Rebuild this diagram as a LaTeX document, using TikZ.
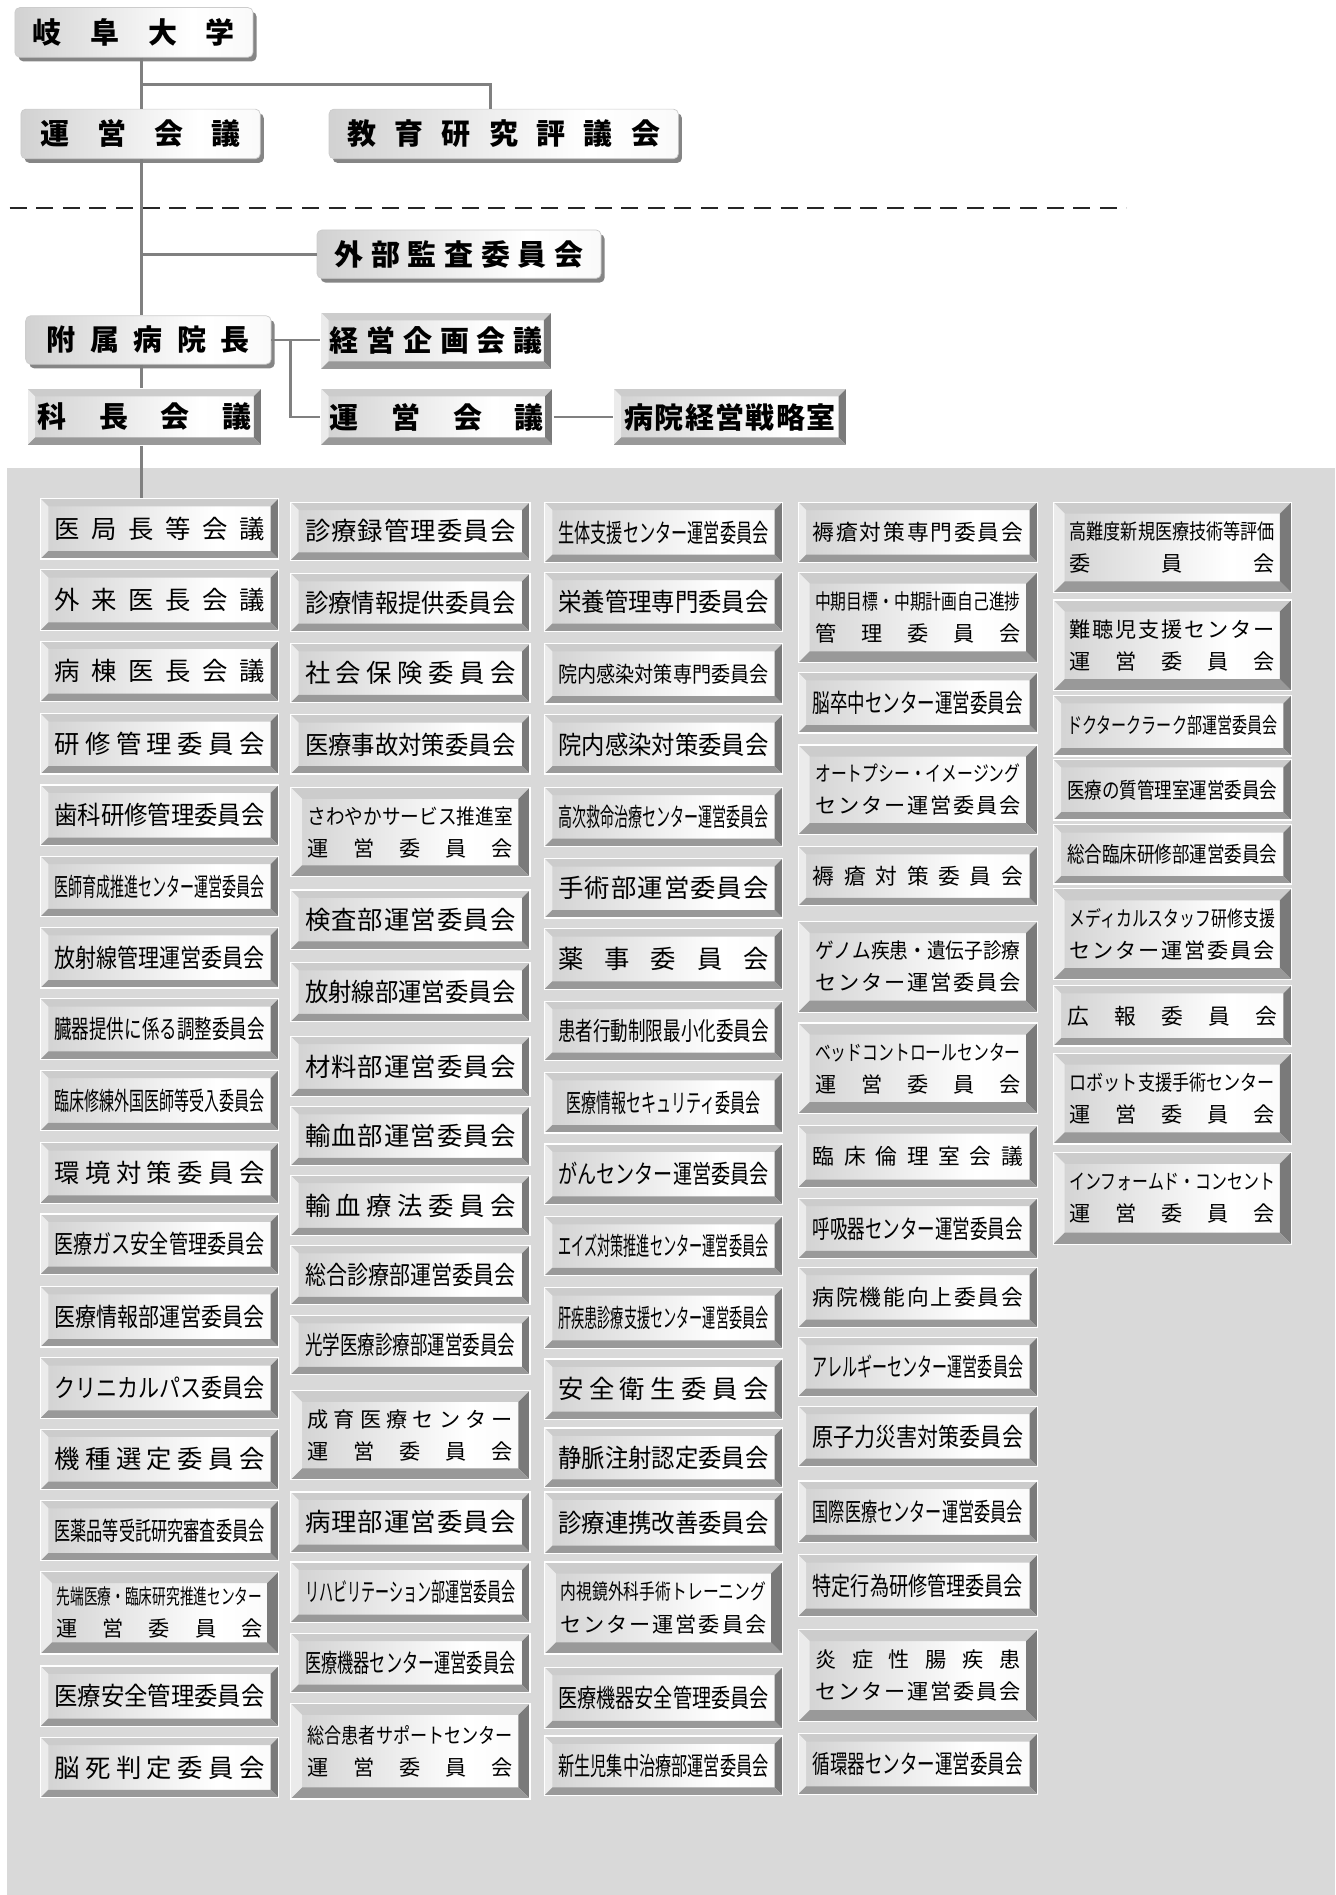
\documentclass[tikz,border=0pt]{standalone}
\usepackage{fontspec}
\usepackage{graphicx}
\usepackage{tikz}
\usetikzlibrary{shadows}
\newfontfamily\jp{Noto Sans CJK JP}
\newcommand{\tw}{174pt}
\newcommand{\twl}{170pt}
\newsavebox{\fitbox}
% squeeze a long line, spread a short one
\newcommand{\fitline}[2]{\begingroup\spaceskip=0pt plus 1fill\relax
  \sbox{\fitbox}{#2}%
  \ifdim\wd\fitbox>#1\relax\resizebox{#1}{\height}{\usebox{\fitbox}}%
  \else\hbox to #1{\hfil#2\hfil}\fi\endgroup}
\pgfdeclarehorizontalshading{kface}{100bp}{color(0bp)=(black!30); color(62bp)=(white); color(100bp)=(black!6)}
\tikzset{
  conn/.style={draw=black!50, line width=2.4pt},
  bev/.store in=\bev, bev=6.5pt,
  kbox/.style={rectangle, inner sep=0pt, shade, shading=kface, draw=white, line width=1pt,
    font=\jp\fontsize{21}{24}\selectfont,
    path picture={
      \coordinate (p1) at (path picture bounding box.south west);
      \coordinate (p3) at (path picture bounding box.north east);
      \coordinate (p2) at (p1 |- p3);
      \coordinate (p4) at (p3 |- p1);
      \fill[black!20] (p2) -- (p3) -- ([xshift=-\bev,yshift=-\bev]p3) -- ([xshift=\bev,yshift=-\bev]p2) -- cycle;
      \fill[black!8] (p1) -- (p2) -- ([xshift=\bev,yshift=-\bev]p2) -- ([xshift=\bev,yshift=\bev]p1) -- cycle;
      \fill[black!52] (p3) -- (p4) -- ([xshift=-\bev,yshift=\bev]p4) -- ([xshift=-\bev,yshift=-\bev]p3) -- cycle;
      \fill[black!40] (p1) -- (p4) -- ([xshift=-\bev,yshift=\bev]p4) -- ([xshift=\bev,yshift=\bev]p1) -- cycle;
    }},
  kb/.style 2 args={kbox, minimum width=#1, minimum height=#2, anchor=north west},
  two/.style={bev=9.5pt, align=center, font=\jp\fontsize{17.5}{26.5}\selectfont},
  sm/.style={font=\jp\fontsize{18}{21}\selectfont},
  bold/.style={font=\jp\bfseries\fontsize{24}{28}\selectfont},
  ub/.style 2 args={rectangle, rounded corners=4pt, inner sep=0pt, shade, shading=kface,
    draw=black!20, line width=0.6pt,
    drop shadow={shadow xshift=3pt, shadow yshift=-3.5pt, fill=black!48, opacity=1},
    minimum width=#1, minimum height=#2, anchor=north west,
    font=\jp\bfseries\fontsize{24}{28}\selectfont}
}
\begin{document}
\begin{tikzpicture}[x=1pt,y=-1pt]
  \useasboundingbox (0,0) rectangle (1105,1568);
  \fill[black!15] (6,387) rectangle (1105,1568);
  \draw[black!85, line width=1.4pt, dash pattern=on 14pt off 8pt] (8,172) -- (932,172);

  % upper part
  \node[ub={197pt}{41pt}] (gifu) at (12,6) {\fitline{167pt}{岐 阜 大 学}};
  \node[ub={198pt}{41pt}] (unei) at (17,90) {\fitline{166pt}{運 営 会 議}};
  \node[ub={289pt}{41pt}] (kyoiku) at (272,90) {\fitline{259pt}{教 育 研 究 評 議 会}};
  \node[ub={235pt}{40pt}] (gaibu) at (262,190) {\fitline{206pt}{外 部 監 査 委 員 会}};
  \node[ub={203pt}{40pt}] (fuzoku) at (21,261) {\fitline{168pt}{附 属 病 院 長}};
  \node[kb={191pt}{47pt}, bold] (keiei) at (265,258) {\fitline{176pt}{経 営 企 画 会 議}};
  \node[kb={194pt}{47pt}, bold] (kacho) at (22,321) {\fitline{177pt}{科 長 会 議}};
  \node[kb={192pt}{47pt}, bold] (unei2) at (265,321) {\fitline{177pt}{運 営 会 議}};
  \node[kb={193pt}{47pt}, bold] (senryaku) at (507,321) {\fitline{175pt}{病 院 経 営 戦 略 室}};

  % column 1
  \node[kb={197pt}{50pt}] (a1) at (33,412) {\fitline{\tw}{医 局 長 等 会 議}};
  \node[kb={197pt}{50pt}] (a2) at (33,471) {\fitline{\tw}{外 来 医 長 会 議}};
  \node[kb={197pt}{50pt}] (a3) at (33,530) {\fitline{\tw}{病 棟 医 長 会 議}};
  \node[kb={197pt}{50pt}] (a4) at (33,590) {\fitline{\tw}{研 修 管 理 委 員 会}};
  \node[kb={197pt}{50pt}] (a5) at (33,649) {\fitline{\tw}{歯科研修管理委員会}};
  \node[kb={197pt}{50pt}] (a6) at (33,708) {\fitline{\tw}{医師育成推進センター運営委員会}};
  \node[kb={197pt}{50pt}] (a7) at (33,767) {\fitline{\tw}{放射線管理運営委員会}};
  \node[kb={197pt}{50pt}] (a8) at (33,826) {\fitline{\tw}{臓器提供に係る調整委員会}};
  \node[kb={197pt}{50pt}] (a9) at (33,885) {\fitline{\tw}{臨床修練外国医師等受入委員会}};
  \node[kb={197pt}{50pt}] (a10) at (33,945) {\fitline{\tw}{環 境 対 策 委 員 会}};
  \node[kb={197pt}{50pt}] (a11) at (33,1004) {\fitline{\tw}{医療ガス安全管理委員会}};
  \node[kb={197pt}{50pt}] (a12) at (33,1064) {\fitline{\tw}{医療情報部運営委員会}};
  \node[kb={197pt}{50pt}] (a13) at (33,1123) {\fitline{\tw}{クリニカルパス委員会}};
  \node[kb={197pt}{50pt}] (a14) at (33,1182) {\fitline{\tw}{機 種 選 定 委 員 会}};
  \node[kb={197pt}{50pt}] (a15) at (33,1241) {\fitline{\tw}{医薬品等受託研究審査委員会}};
  \node[kb={197pt}{68pt}, two] (a16) at (33,1300) {\fitline{\twl}{先端医療・臨床研究推進センター}\\\fitline{\twl}{運 営 委 員 会}};
  \node[kb={197pt}{50pt}] (a17) at (33,1378) {\fitline{\tw}{医療安全管理委員会}};
  \node[kb={197pt}{50pt}] (a18) at (33,1437) {\fitline{\tw}{脳 死 判 定 委 員 会}};

  % column 2
  \node[kb={198pt}{48pt}] (b1) at (240,415) {\fitline{\tw}{診 療 録 管 理 委 員 会}};
  \node[kb={198pt}{48pt}] (b2) at (240,474) {\fitline{\tw}{診療情報提供委員会}};
  \node[kb={198pt}{49pt}] (b3) at (240,532) {\fitline{\tw}{社 会 保 険 委 員 会}};
  \node[kb={198pt}{49pt}] (b4) at (240,591) {\fitline{\tw}{医療事故対策委員会}};
  \node[kb={198pt}{74pt}, two] (b5) at (240,651) {\fitline{\twl}{さわやかサービス推進室}\\\fitline{\twl}{運 営 委 員 会}};
  \node[kb={198pt}{49pt}] (b6) at (240,736) {\fitline{\tw}{検 査 部 運 営 委 員 会}};
  \node[kb={198pt}{49pt}] (b7) at (240,796) {\fitline{\tw}{放射線部運営委員会}};
  \node[kb={198pt}{50pt}] (b8) at (240,857) {\fitline{\tw}{材 料 部 運 営 委 員 会}};
  \node[kb={198pt}{49pt}] (b9) at (240,915) {\fitline{\tw}{輸 血 部 運 営 委 員 会}};
  \node[kb={198pt}{50pt}] (b10) at (240,972) {\fitline{\tw}{輸 血 療 法 委 員 会}};
  \node[kb={198pt}{49pt}] (b11) at (240,1030) {\fitline{\tw}{総合診療部運営委員会}};
  \node[kb={198pt}{49pt}] (b12) at (240,1088) {\fitline{\tw}{光学医療診療部運営委員会}};
  \node[kb={198pt}{74pt}, two] (b13) at (240,1150) {\fitline{\twl}{成 育 医 療 セ ン タ ー}\\\fitline{\twl}{運 営 委 員 会}};
  \node[kb={198pt}{50pt}] (b14) at (240,1234) {\fitline{\tw}{病 理 部 運 営 委 員 会}};
  \node[kb={198pt}{50pt}] (b15) at (240,1292) {\fitline{\tw}{リハビリテーション部運営委員会}};
  \node[kb={198pt}{49pt}] (b16) at (240,1351) {\fitline{\tw}{医療機器センター運営委員会}};
  \node[kb={198pt}{79pt}, two] (b17) at (240,1409) {\fitline{\twl}{総合患者サポートセンター}\\\fitline{\twl}{運 営 委 員 会}};

  % column 3
  \node[kb={197pt}{50pt}] (c1) at (450,415) {\fitline{\tw}{生体支援センター運営委員会}};
  \node[kb={197pt}{49pt}] (c2) at (450,473) {\fitline{\tw}{栄 養 管 理 専 門 委 員 会}};
  \node[kb={197pt}{50pt}, sm] (c3) at (450,532) {\fitline{\tw}{院 内 感 染 対 策 専 門 委 員 会}};
  \node[kb={197pt}{49pt}] (c4) at (450,591) {\fitline{\tw}{院内感染対策委員会}};
  \node[kb={197pt}{49pt}] (c5) at (450,651) {\fitline{\tw}{高次救命治療センター運営委員会}};
  \node[kb={197pt}{49pt}] (c6) at (450,710) {\fitline{\tw}{手 術 部 運 営 委 員 会}};
  \node[kb={197pt}{50pt}] (c7) at (450,768) {\fitline{\tw}{薬 事 委 員 会}};
  \node[kb={197pt}{49pt}] (c8) at (450,828) {\fitline{\tw}{患者行動制限最小化委員会}};
  \node[kb={197pt}{50pt}] (c9) at (450,887) {\fitline{161pt}{医療情報セキュリティ委員会}};
  \node[kb={197pt}{50pt}] (c10) at (450,946) {\fitline{\tw}{がんセンター運営委員会}};
  \node[kb={197pt}{49pt}] (c11) at (450,1006) {\fitline{\tw}{エイズ対策推進センター運営委員会}};
  \node[kb={197pt}{50pt}] (c12) at (450,1065) {\fitline{\tw}{肝疾患診療支援センター運営委員会}};
  \node[kb={197pt}{50pt}] (c13) at (450,1124) {\fitline{\tw}{安 全 衛 生 委 員 会}};
  \node[kb={197pt}{49pt}] (c14) at (450,1181) {\fitline{\tw}{静脈注射認定委員会}};
  \node[kb={197pt}{51pt}] (c15) at (450,1234) {\fitline{\tw}{診療連携改善委員会}};
  \node[kb={197pt}{76pt}, two] (c16) at (450,1292) {\fitline{\twl}{内視鏡外科手術トレーニング}\\\fitline{\twl}{セ ン タ ー 運 営 委 員 会}};
  \node[kb={197pt}{51pt}] (c17) at (450,1379) {\fitline{\tw}{医療機器安全管理委員会}};
  \node[kb={197pt}{49pt}] (c18) at (450,1436) {\fitline{\tw}{新生児集中治療部運営委員会}};

  % column 4
  \node[kb={198pt}{50pt}, sm] (d1) at (660,415) {\fitline{\tw}{褥 瘡 対 策 専 門 委 員 会}};
  \node[kb={198pt}{75pt}, two] (d2) at (660,473) {\fitline{\twl}{中期目標・中期計画自己進捗}\\\fitline{\twl}{管 理 委 員 会}};
  \node[kb={198pt}{50pt}] (d3) at (660,556) {\fitline{\tw}{脳卒中センター運営委員会}};
  \node[kb={198pt}{74pt}, two] (d4) at (660,616) {\fitline{\twl}{オートプシー・イメージング}\\\fitline{\twl}{セ ン タ ー 運 営 委 員 会}};
  \node[kb={198pt}{49pt}, sm] (d5) at (660,700) {\fitline{\tw}{褥 瘡 対 策 委 員 会}};
  \node[kb={198pt}{75pt}, two] (d6) at (660,762) {\fitline{\twl}{ゲ ノ ム 疾 患 ・ 遺 伝 子 診 療}\\\fitline{\twl}{セ ン タ ー 運 営 委 員 会}};
  \node[kb={198pt}{75pt}, two] (d7) at (660,846) {\fitline{\twl}{ベッドコントロールセンター}\\\fitline{\twl}{運 営 委 員 会}};
  \node[kb={198pt}{51pt}, sm] (d8) at (660,931) {\fitline{\tw}{臨 床 倫 理 室 会 議}};
  \node[kb={198pt}{50pt}] (d9) at (660,991) {\fitline{\tw}{呼吸器センター運営委員会}};
  \node[kb={198pt}{50pt}, sm] (d10) at (660,1048) {\fitline{\tw}{病 院 機 能 向 上 委 員 会}};
  \node[kb={198pt}{49pt}] (d11) at (660,1106) {\fitline{\tw}{アレルギーセンター運営委員会}};
  \node[kb={198pt}{50pt}] (d12) at (660,1163) {\fitline{\tw}{原子力災害対策委員会}};
  \node[kb={198pt}{51pt}] (d13) at (660,1225) {\fitline{\tw}{国際医療センター運営委員会}};
  \node[kb={198pt}{51pt}] (d14) at (660,1286) {\fitline{\tw}{特定行為研修管理委員会}};
  \node[kb={198pt}{76pt}, two] (d15) at (660,1348) {\fitline{\twl}{炎 症 性 腸 疾 患}\\\fitline{\twl}{セ ン タ ー 運 営 委 員 会}};
  \node[kb={198pt}{50pt}] (d16) at (660,1434) {\fitline{\tw}{循環器センター運営委員会}};

  % column 5
  \node[kb={197pt}{75pt}, two] (e1) at (871,415) {\fitline{\twl}{高難度新規医療技術等評価}\\\fitline{\twl}{委 員 会}};
  \node[kb={197pt}{75pt}, two] (e2) at (871,496) {\fitline{\twl}{難 聴 児 支 援 セ ン タ ー}\\\fitline{\twl}{運 営 委 員 会}};
  \node[kb={197pt}{50pt}, sm] (e3) at (871,575) {\fitline{\tw}{ドクタークラーク部運営委員会}};
  \node[kb={197pt}{50pt}, sm] (e4) at (871,628) {\fitline{\tw}{医療の質管理室運営委員会}};
  \node[kb={197pt}{49pt}, sm] (e5) at (871,682) {\fitline{\tw}{総合臨床研修部運営委員会}};
  \node[kb={197pt}{75pt}, two] (e6) at (871,735) {\fitline{\twl}{メディカルスタッフ研修支援}\\\fitline{\twl}{セ ン タ ー 運 営 委 員 会}};
  \node[kb={197pt}{50pt}, sm] (e7) at (871,815) {\fitline{\tw}{広 報 委 員 会}};
  \node[kb={197pt}{75pt}, two] (e8) at (871,871) {\fitline{\twl}{ロボット支援手術センター}\\\fitline{\twl}{運 営 委 員 会}};
  \node[kb={197pt}{76pt}, two] (e9) at (871,953) {\fitline{\twl}{インフォームド・コンセント}\\\fitline{\twl}{運 営 委 員 会}};

  % connectors
  \coordinate (t0) at (117,0);
  \coordinate (jx) at (240,0);
  \coordinate (br) at (117,70);
  \draw[conn] (gifu.south -| t0) -- (unei.north -| t0);
  \draw[conn] (br) -| ([xshift=-11pt]kyoiku.north);
  \draw[conn] (unei.south -| t0) -- (fuzoku.north -| t0);
  \draw[conn] (t0 |- gaibu.west) -- (gaibu.west);
  \draw[conn] (fuzoku.east) -- (fuzoku.east -| keiei.west);
  \draw[conn] (fuzoku.east -| jx) |- (unei2.west);
  \draw[conn] (fuzoku.south -| t0) -- (kacho.north -| t0);
  \draw[conn] (unei2.east) -- (senryaku.west);
  \draw[conn] (kacho.south -| t0) -- (a1.north -| t0);
\end{tikzpicture}
\end{document}
